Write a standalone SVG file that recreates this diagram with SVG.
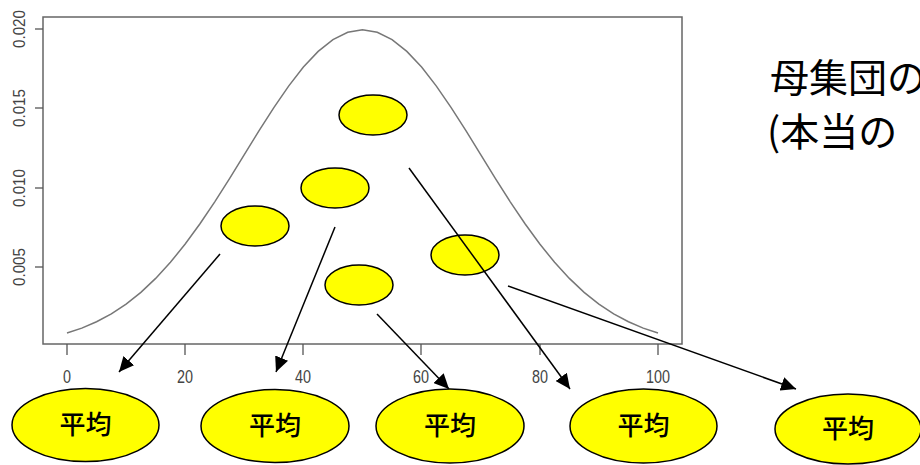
<svg xmlns="http://www.w3.org/2000/svg" width="920" height="465" viewBox="0 0 920 465">
<defs>
<marker id="ah" markerUnits="userSpaceOnUse" markerWidth="16" markerHeight="14" refX="15" refY="7" orient="auto">
<path d="M0,0 L15,7 L0,14 Z" fill="#000"/>
</marker>
<style>
.ax{stroke:#666;stroke-width:1.5;fill:none}
.tk{stroke:#555;stroke-width:1.3}
.lab{font-family:"Liberation Sans",Arial,sans-serif;font-size:19px;fill:#444}
.dot{fill:#ffff00;stroke:#000;stroke-width:1.5}
.mean{fill:#ffff00;stroke:#000;stroke-width:1.5}
.mt{font-family:"Noto Sans CJK JP",sans-serif;font-size:26px;font-weight:500;fill:#000;text-anchor:middle}
.title{font-family:"Noto Sans CJK JP",sans-serif;font-size:39px;fill:#000}
.arr{stroke:#000;stroke-width:1.5;fill:none;marker-end:url(#ah)}
</style>
</defs>
<rect width="920" height="465" fill="#fff"/>
<g id="plot">
<rect x="43" y="17" width="639" height="327" class="ax"/>
<polyline fill="none" stroke="#777" stroke-width="1.5" points="67,333.06 81.78,328.1 96.55,321.77 111.33,313.83 126.1,304.07 140.88,292.31 155.65,278.41 170.43,262.3 185.2,244.03 199.98,223.76 214.75,201.8 229.53,178.56 244.3,154.63 259.08,130.71 273.85,107.59 288.63,86.11 303.4,67.11 318.18,51.37 332.95,39.6 347.73,32.31 362.5,29.84 377.27,32.31 392.05,39.6 406.82,51.37 421.6,67.11 436.37,86.11 451.15,107.59 465.92,130.71 480.7,154.63 495.47,178.56 510.25,201.8 525.02,223.76 539.8,244.03 554.57,262.3 569.35,278.41 584.12,292.31 598.9,304.07 613.67,313.83 628.45,321.77 643.22,328.1 658,333.06"/>
<g class="tk">
<line x1="35" y1="29" x2="43" y2="29"/><line x1="35" y1="108" x2="43" y2="108"/><line x1="35" y1="188" x2="43" y2="188"/><line x1="35" y1="267" x2="43" y2="267"/>
<line x1="67" y1="344" x2="67" y2="355"/><line x1="185" y1="344" x2="185" y2="355"/><line x1="303" y1="344" x2="303" y2="355"/><line x1="421" y1="344" x2="421" y2="355"/><line x1="540" y1="344" x2="540" y2="355"/><line x1="658" y1="344" x2="658" y2="355"/>
</g>
<g class="lab" text-anchor="middle">
<text transform="translate(25,29) rotate(-90)" textLength="38" lengthAdjust="spacingAndGlyphs" font-size="16">0.020</text>
<text transform="translate(25,108) rotate(-90)" textLength="38" lengthAdjust="spacingAndGlyphs" font-size="16">0.015</text>
<text transform="translate(25,188) rotate(-90)" textLength="38" lengthAdjust="spacingAndGlyphs" font-size="16">0.010</text>
<text transform="translate(25,267) rotate(-90)" textLength="38" lengthAdjust="spacingAndGlyphs" font-size="16">0.005</text>
<text x="67" y="383" textLength="8" lengthAdjust="spacingAndGlyphs">0</text>
<text x="185" y="383" textLength="16" lengthAdjust="spacingAndGlyphs">20</text>
<text x="303" y="383" textLength="16" lengthAdjust="spacingAndGlyphs">40</text>
<text x="421" y="383" textLength="16" lengthAdjust="spacingAndGlyphs">60</text>
<text x="540" y="383" textLength="16" lengthAdjust="spacingAndGlyphs">80</text>
<text x="658" y="383" textLength="24" lengthAdjust="spacingAndGlyphs">100</text>
</g>
</g>
<g id="sample1"><ellipse cx="373" cy="115" rx="34" ry="20" class="dot"/></g>
<g id="sample2"><ellipse cx="335" cy="188" rx="34" ry="20" class="dot"/></g>
<g id="sample3"><ellipse cx="255" cy="226" rx="34" ry="20" class="dot"/></g>
<g id="sample4"><ellipse cx="465" cy="255" rx="34" ry="20" class="dot"/></g>
<g id="sample5"><ellipse cx="359" cy="285" rx="34" ry="20" class="dot"/></g>
<g id="connectors">
<line x1="220" y1="254" x2="119" y2="372" class="arr"/>
<line x1="335" y1="227" x2="276" y2="372" class="arr"/>
<line x1="377" y1="314" x2="449" y2="389" class="arr"/>
<line x1="409" y1="168" x2="570" y2="389" class="arr"/>
<line x1="508" y1="286" x2="796" y2="389" class="arr"/>
</g>
<g id="mean1"><ellipse cx="85.5" cy="425" rx="73.5" ry="36.5" class="mean"/><text x="85.5" y="434" class="mt">平均</text></g>
<g id="mean2"><ellipse cx="275" cy="426" rx="74" ry="36.5" class="mean"/><text x="275" y="435" class="mt">平均</text></g>
<g id="mean3"><ellipse cx="450" cy="426" rx="74" ry="37" class="mean"/><text x="450" y="435" class="mt">平均</text></g>
<g id="mean4"><ellipse cx="643.5" cy="426" rx="73.5" ry="37" class="mean"/><text x="643.5" y="435" class="mt">平均</text></g>
<g id="mean5"><ellipse cx="848" cy="429" rx="73" ry="35" class="mean"/><text x="848" y="438" class="mt">平均</text></g>
<g id="title">
<text x="770" y="92" class="title">母集団の</text>
<text x="767" y="146" class="title">(本当の</text>
</g>
</svg>
